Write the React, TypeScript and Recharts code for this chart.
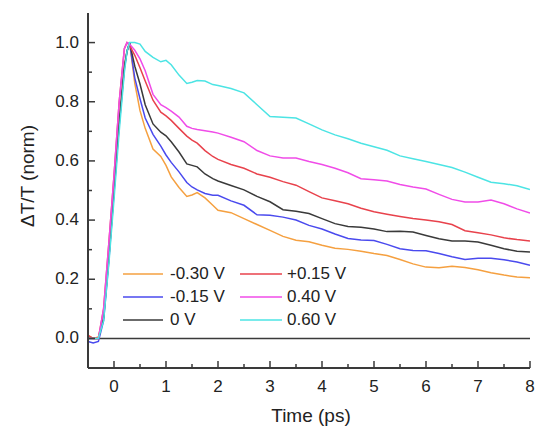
import React from 'react'
import { LineChart, Line, XAxis, YAxis, ReferenceLine } from 'recharts'

const times = [
  -0.5, -0.4, -0.3, -0.2, -0.1, 0, 0.1, 0.2, 0.25, 0.3, 0.4, 0.5, 0.6, 0.75, 0.9, 1.0,
  1.1, 1.25, 1.4, 1.5, 1.6, 1.75, 1.9, 2.0, 2.25, 2.5, 2.75, 3.0, 3.25, 3.5, 3.75, 4.0,
  4.25, 4.5, 4.75, 5.0, 5.25, 5.5, 5.75, 6.0, 6.25, 6.5, 6.75, 7.0, 7.25, 7.5, 7.75, 8.0,
]

const vM030 = [
  0.01, 0.0, 0.005, 0.07, 0.27, 0.5, 0.73, 0.92, 0.97, 1.0, 0.862, 0.77, 0.71, 0.64, 0.615, 0.585,
  0.546, 0.51, 0.48, 0.485, 0.493, 0.475, 0.45, 0.433, 0.425, 0.405, 0.385, 0.365, 0.345, 0.332, 0.327, 0.315,
  0.305, 0.301, 0.295, 0.287, 0.28, 0.267, 0.252, 0.241, 0.239, 0.244, 0.24, 0.232, 0.222, 0.214, 0.208, 0.205,
]
const vM015 = [
  -0.01, -0.015, -0.01, 0.06, 0.26, 0.49, 0.72, 0.91, 0.97, 1.0, 0.88, 0.81, 0.745, 0.69, 0.65, 0.62,
  0.595, 0.563, 0.527, 0.512, 0.502, 0.49, 0.484, 0.484, 0.465, 0.45, 0.418, 0.416, 0.41, 0.4, 0.382, 0.37,
  0.353, 0.338, 0.333, 0.331, 0.318, 0.303, 0.297, 0.296, 0.287, 0.276, 0.267, 0.271, 0.271, 0.266, 0.258, 0.247,
]
const v0 = [
  0.0, 0.0, 0.0, 0.07, 0.27, 0.5, 0.73, 0.92, 0.97, 1.0, 0.92, 0.86, 0.79, 0.725, 0.697, 0.685,
  0.665, 0.63, 0.59, 0.585, 0.58, 0.556, 0.54, 0.532, 0.517, 0.502, 0.48, 0.462, 0.435, 0.43, 0.422, 0.405,
  0.388, 0.378, 0.376, 0.37, 0.361, 0.362, 0.36, 0.348, 0.337, 0.329, 0.329, 0.326, 0.315, 0.303, 0.295, 0.292,
]
const vP015 = [
  0.01, 0.0, 0.0, 0.1, 0.32, 0.55, 0.8, 0.98, 1.0, 0.99, 0.957, 0.915, 0.87, 0.805, 0.765, 0.752,
  0.737, 0.71, 0.684, 0.67, 0.66, 0.635, 0.615, 0.605, 0.588, 0.575, 0.556, 0.545, 0.53, 0.518, 0.496, 0.475,
  0.465, 0.455, 0.44, 0.428, 0.42, 0.412, 0.405, 0.4, 0.394, 0.385, 0.364, 0.357, 0.35, 0.34, 0.334, 0.329,
]
const vP040 = [
  0.0, 0.0, 0.0, 0.1, 0.32, 0.55, 0.8, 0.98, 1.0, 0.995, 0.974, 0.945, 0.905, 0.825, 0.79, 0.78,
  0.768, 0.748, 0.717, 0.71, 0.706, 0.702, 0.698, 0.694, 0.68, 0.665, 0.635, 0.617, 0.61, 0.61, 0.598, 0.588,
  0.575, 0.56, 0.54, 0.536, 0.532, 0.52, 0.512, 0.505, 0.487, 0.47, 0.461, 0.461, 0.468, 0.455, 0.438, 0.424,
]
const vP060 = [
  0.0, 0.0, 0.0, 0.06, 0.25, 0.47, 0.7, 0.9, 0.97, 1.0, 1.0, 0.995, 0.97, 0.95, 0.935, 0.94,
  0.925, 0.89, 0.862, 0.866, 0.872, 0.87, 0.858, 0.855, 0.845, 0.83, 0.79, 0.75, 0.748, 0.745, 0.725, 0.705,
  0.688, 0.675, 0.66, 0.648, 0.636, 0.617, 0.607, 0.598, 0.588, 0.578, 0.562, 0.545, 0.528, 0.523, 0.516, 0.503,
]

const xTicks = [0, 0.5, 1, 1.5, 2, 2.5, 3, 3.5, 4, 4.5, 5, 5.5, 6, 6.5, 7, 7.5, 8]
const yTicks = [0, 0.1, 0.2, 0.3, 0.4, 0.5, 0.6, 0.7, 0.8, 0.9, 1.0]

const series = [
  { key: 'm030', name: '-0.30 V', color: '#F5A040', values: vM030 },
  { key: 'm015', name: '-0.15 V', color: '#4A4AEE', values: vM015 },
  { key: 'z', name: '0 V', color: '#3A3A3A', values: v0 },
  { key: 'p015', name: '+0.15 V', color: '#E8424C', values: vP015 },
  { key: 'p040', name: '0.40 V', color: '#F04CE8', values: vP040 },
  { key: 'p060', name: '0.60 V', color: '#4CE4E4', values: vP060 },
]

const data = times.map((t, i) => {
  const row: Record<string, number> = { t }
  series.forEach((s) => { row[s.key] = s.values[i] })
  return row
})

const FONT = '"Liberation Sans", Arial, sans-serif'
const AXIS = '#3a3a3a'

const isMajorX = (v: number) => Math.abs(v - Math.round(v)) < 1e-6
const isMajorY = (v: number) => Math.abs(v * 5 - Math.round(v * 5)) < 1e-6

function BottomTick({ x, y, payload }: any) {
  const major = isMajorX(payload.value)
  return (
    <g>
      <line x1={x} x2={x} y1={y} y2={y - (major ? 7 : 4)} stroke={AXIS} strokeWidth={1.5} />
      {major && (
        <text x={x} y={y + 24} textAnchor="middle" fontSize={17} fontFamily={FONT} fill="#222">
          {payload.value}
        </text>
      )}
    </g>
  )
}

function TopTick({ x, y, payload }: any) {
  const major = isMajorX(payload.value)
  return <line x1={x} x2={x} y1={y} y2={y + (major ? 7 : 4)} stroke={AXIS} strokeWidth={1.5} />
}

function LeftTick({ x, y, payload }: any) {
  const major = isMajorY(payload.value)
  return (
    <g>
      <line x1={x} x2={x + (major ? 7 : 4)} y1={y} y2={y} stroke={AXIS} strokeWidth={1.5} />
      {major && (
        <text x={x - 9} y={y + 5} textAnchor="end" fontSize={17} fontFamily={FONT} fill="#222">
          {payload.value.toFixed(1)}
        </text>
      )}
    </g>
  )
}

function RightTick({ x, y }: any) {
  return <line x1={x} x2={x - 6} y1={y} y2={y} stroke={AXIS} strokeWidth={1.5} />
}

function LegendBox() {
  const cols = [series.slice(0, 3), series.slice(3)]
  return (
    <div
      style={{
        position: 'absolute', left: 123, top: 263, display: 'flex',
        fontFamily: FONT, fontSize: 17, color: '#222',
      }}
    >
      {cols.map((col, ci) => (
        <div key={ci} style={{ width: ci === 0 ? 117 : 130 }}>
          {col.map((s) => (
            <div key={s.key} style={{ display: 'flex', alignItems: 'center', height: 22.7 }}>
              <svg width={ci === 0 ? 40 : 42} height={4} style={{ display: 'block' }}>
                <line x1={0} x2={ci === 0 ? 40 : 42} y1={2} y2={2} stroke={s.color} strokeWidth={1.5} />
              </svg>
              <span style={{ marginLeft: ci === 0 ? 7 : 5, lineHeight: '22px' }}>{s.name}</span>
            </div>
          ))}
        </div>
      ))}
    </div>
  )
}

export default function App() {
  return (
    <div style={{ position: 'absolute', left: 0, top: 0, width: 539, height: 429, background: '#fff' }}>
      <LineChart width={539} height={429} data={data} margin={{ top: 13, right: 9, bottom: 0, left: 8 }}>
        <XAxis
          dataKey="t"
          type="number"
          domain={[-0.5, 8]}
          ticks={xTicks}
          interval={0}
          allowDataOverflow
          height={61}
          tickSize={0}
          tickMargin={0}
          tickLine={false}
          axisLine={{ stroke: AXIS, strokeWidth: 2 }}
          tick={<BottomTick />}
          label={() => (
            <text x={311} y={422} textAnchor="middle" fontSize={19} fontFamily={FONT} fill="#222">
              Time (ps)
            </text>
          )}
        />
        <XAxis
          xAxisId="top"
          dataKey="t"
          type="number"
          orientation="top"
          domain={[-0.5, 8]}
          ticks={xTicks}
          interval={0}
          allowDataOverflow
          height={0}
          tickSize={0}
          tickMargin={0}
          tickLine={false}
          axisLine={{ stroke: AXIS, strokeWidth: 2 }}
          tick={<TopTick />}
        />
        <YAxis
          type="number"
          domain={[-0.1, 1.1]}
          ticks={yTicks}
          interval={0}
          allowDataOverflow
          width={80}
          tickSize={0}
          tickMargin={0}
          tickLine={false}
          axisLine={{ stroke: AXIS, strokeWidth: 2 }}
          tick={<LeftTick />}
          label={() => (
            <text
              x={27}
              y={176}
              transform="rotate(-90 27 176)"
              textAnchor="middle"
              dominantBaseline="central"
              fontSize={19}
              fontFamily={FONT}
              fill="#222"
            >
              ΔT/T (norm)
            </text>
          )}
        />
        <YAxis
          yAxisId="right"
          type="number"
          orientation="right"
          domain={[-0.1, 1.1]}
          ticks={yTicks}
          interval={0}
          allowDataOverflow
          width={0}
          tickSize={0}
          tickMargin={0}
          tickLine={false}
          axisLine={{ stroke: AXIS, strokeWidth: 2 }}
          tick={<RightTick />}
        />
        <ReferenceLine y={0} stroke={AXIS} strokeWidth={1.5} />
        {series.map((s) => (
          <Line
            key={s.key}
            type="linear"
            dataKey={s.key}
            stroke={s.color}
            strokeWidth={1.5}
            dot={false}
            isAnimationActive={false}
          />
        ))}
      </LineChart>
      <LegendBox />
    </div>
  )
}
